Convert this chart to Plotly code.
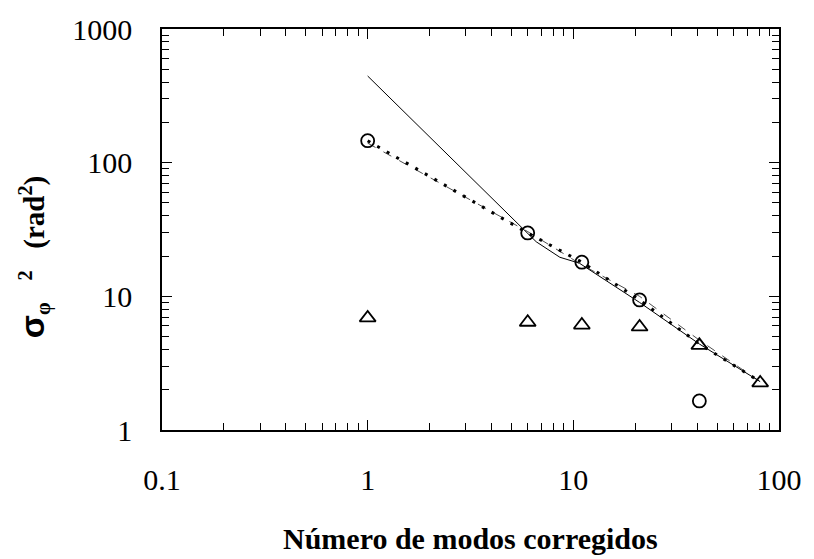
import plotly.graph_objects as go

# Number of corrected modes where the phase variance was evaluated
modes = [1, 6, 11, 21, 41, 81]

# Residual phase variance (rad^2), circle series
var_circles = [146, 29.8, 18.0, 9.4, 1.65]
modes_circles = [1, 6, 11, 21, 41]

# Residual phase variance (rad^2), triangle series
var_triangles = [6.9, 6.4, 6.1, 5.9, 4.3, 2.25]

# Continuous reference curve (solid)
curve_x = [1, 6.6, 8.6, 10.7, 21, 41, 81]
curve_y = [445, 25.6, 19.6, 17.7, 9.0, 4.4, 2.3]

# Fitted trend through measurements (thick dotted)
fit_x = [1, 6, 11, 21, 41, 81]
fit_y = [146, 29.8, 18.0, 9.4, 4.4, 2.3]

# Secondary fit (thin dashed)
fit2_x = [1, 6, 11, 21, 41, 81]
fit2_y = [140, 30.5, 17.2, 10.0, 4.7, 2.3]

x_ticks = [0.1, 1, 10, 100]
x_ticktext = ["0.1", "1", "10", "100"]
y_ticks = [1, 10, 100, 1000]
y_ticktext = ["1", "10", "100", "1000"]

fig = go.Figure()

fig.add_trace(go.Scatter(x=curve_x, y=curve_y, mode="lines",
                         line=dict(color="black", width=1)))
fig.add_trace(go.Scatter(x=fit2_x, y=fit2_y, mode="lines",
                         line=dict(color="black", width=0.7, dash="dash")))
fig.add_trace(go.Scatter(x=fit_x, y=fit_y, mode="lines",
                         line=dict(color="black", width=3, dash="3px,8px")))
fig.add_trace(go.Scatter(x=modes_circles, y=var_circles, mode="markers",
                         marker=dict(symbol="circle-open", size=13,
                                     color="black", line=dict(width=1.8))))
fig.add_trace(go.Scatter(x=modes, y=var_triangles, mode="markers",
                         marker=dict(symbol="triangle-up-open", size=14,
                                     color="black", line=dict(width=1.8))))

tick_font = dict(family="Liberation Serif", size=30, color="black")

nb = "\u00a0"
y_title = ("<b><span style='font-family:Liberation Sans;font-size:34px'>σ</span>"
           "<sub>φ</sub>" + nb * 3 + "<sup>2</sup>" + nb * 3 +
           "(rad<sup>2</sup>)</b>")

fig.update_layout(
    width=814, height=559,
    margin=dict(l=162, r=24, t=22, b=129),
    paper_bgcolor="white", plot_bgcolor="white",
    showlegend=False,
    xaxis=dict(
        type="log", range=[-1, 2],
        tickvals=x_ticks, ticktext=x_ticktext,
        ticks="inside", ticklen=10, tickwidth=1, tickcolor="black",
        minor=dict(ticks="inside", ticklen=7, tickwidth=1, tickcolor="black",
                   dtick="D1", showgrid=False),
        showline=True, linecolor="black", linewidth=1.5, mirror="allticks",
        showgrid=False, zeroline=False,
        tickfont=tick_font, ticklabelstandoff=22,
    ),
    yaxis=dict(
        type="log", range=[0, 3],
        tickvals=y_ticks, ticktext=y_ticktext,
        ticks="inside", ticklen=10, tickwidth=1, tickcolor="black",
        minor=dict(ticks="inside", ticklen=7, tickwidth=1, tickcolor="black",
                   dtick="D1", showgrid=False),
        showline=True, linecolor="black", linewidth=1.5, mirror="allticks",
        showgrid=False, zeroline=False,
        tickfont=tick_font, ticklabelstandoff=22,
    ),
    annotations=[
        dict(text="<b>Número de modos corregidos</b>", xref="paper", yref="paper",
             x=(476 - 162) / 628, y=-(540 - 430) / 408,
             xanchor="center", yanchor="middle", showarrow=False,
             font=dict(family="Liberation Serif", size=30, color="black")),
        dict(text=y_title,
             xref="paper", yref="paper",
             x=-(162 - 32) / 628, y=(430 - 254) / 408,
             xanchor="center", yanchor="middle", textangle=-90,
             showarrow=False,
             font=dict(family="Liberation Serif", size=29, color="black")),
    ],
)

fig.write_html("out.html")
